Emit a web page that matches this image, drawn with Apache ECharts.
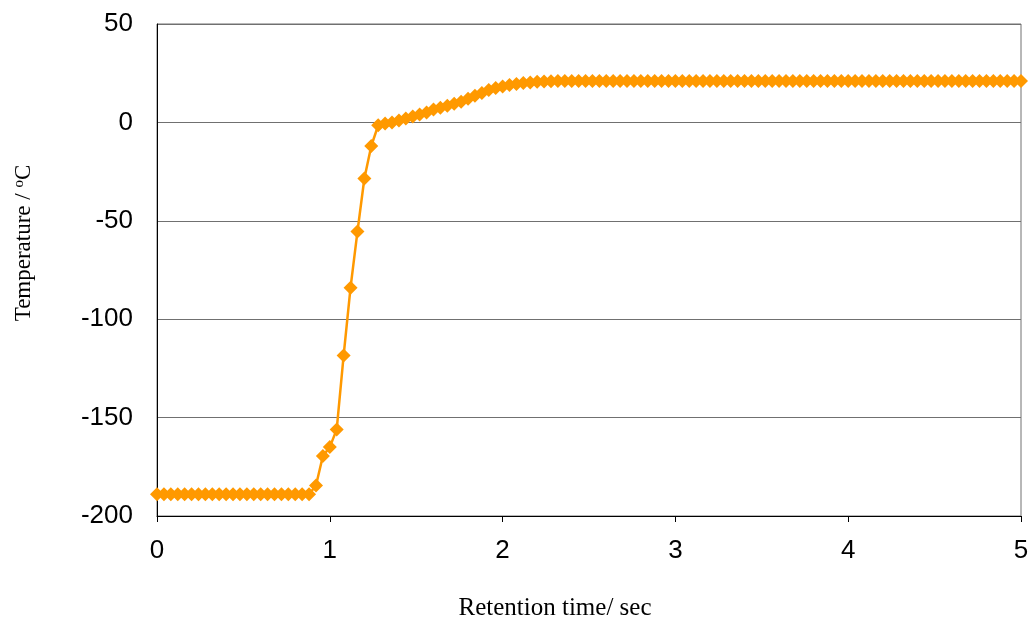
<!DOCTYPE html>
<html>
<head>
<meta charset="utf-8">
<script src="https://cdn.jsdelivr.net/npm/echarts@6/dist/echarts.min.js"></script>
<style>
html,body{margin:0;padding:0;background:#fff;}
#chart{width:1034px;height:628px;}
</style>
</head>
<body>
<div id="chart"></div>
<script>
var times = [0, 0.04, 0.08, 0.12, 0.16, 0.2, 0.24, 0.28, 0.32, 0.36, 0.4, 0.44, 0.48, 0.52, 0.56, 0.6, 0.64, 0.68, 0.72, 0.76, 0.8, 0.84, 0.88, 0.92, 0.96, 1, 1.04, 1.08, 1.12, 1.16, 1.2, 1.24, 1.28, 1.32, 1.36, 1.4, 1.44, 1.48, 1.52, 1.56, 1.6, 1.64, 1.68, 1.72, 1.76, 1.8, 1.84, 1.88, 1.92, 1.96, 2, 2.04, 2.08, 2.12, 2.16, 2.2, 2.24, 2.28, 2.32, 2.36, 2.4, 2.44, 2.48, 2.52, 2.56, 2.6, 2.64, 2.68, 2.72, 2.76, 2.8, 2.84, 2.88, 2.92, 2.96, 3, 3.04, 3.08, 3.12, 3.16, 3.2, 3.24, 3.28, 3.32, 3.36, 3.4, 3.44, 3.48, 3.52, 3.56, 3.6, 3.64, 3.68, 3.72, 3.76, 3.8, 3.84, 3.88, 3.92, 3.96, 4, 4.04, 4.08, 4.12, 4.16, 4.2, 4.24, 4.28, 4.32, 4.36, 4.4, 4.44, 4.48, 4.52, 4.56, 4.6, 4.64, 4.68, 4.72, 4.76, 4.8, 4.84, 4.88, 4.92, 4.96, 5];
var temperatures = [
  -189, -189, -189, -189, -189, -189, -189, -189, -189, -189, -189, -189,
  -189, -189, -189, -189, -189, -189, -189, -189, -189, -189, -189,
  -184.5, -169.5, -165, -156, -118.5, -84, -55.5, -28.5, -12, -1.5,
  -0.5, 0, 1, 2, 3, 4, 5, 6.5, 7.5, 8.5, 9.5, 10.5, 12, 13.5, 15, 16.5, 17.5,
  18.3, 19, 19.5, 20, 20.3, 20.6, 20.8, 20.9,
  21, 21, 21, 21, 21, 21, 21, 21, 21, 21, 21, 21, 21, 21, 21, 21, 21,
  21, 21, 21, 21, 21, 21, 21, 21, 21, 21, 21, 21, 21, 21, 21, 21, 21,
  21, 21, 21, 21, 21, 21, 21, 21, 21, 21, 21, 21, 21, 21, 21, 21, 21,
  21, 21, 21, 21, 21, 21, 21, 21, 21, 21, 21, 21, 21, 21, 21, 21, 21
];
var xTitle = 'Retention time/ sec';
var yTitle = 'Temperature / {sup|o}C';

var points = times.map(function (t, i) { return [t, temperatures[i]]; });

var chart = echarts.init(document.getElementById('chart'), null, {renderer: 'canvas'});
chart.setOption({
  animation: false,
  backgroundColor: '#ffffff',
  grid: {
    left: 157, right: 13, top: 24, bottom: 112,
    show: true, borderColor: '#707070', borderWidth: 1, backgroundColor: 'transparent'
  },
  xAxis: {
    type: 'value', min: 0, max: 5, interval: 1,
    axisLine: {show: true, onZero: false, lineStyle: {color: '#000', width: 1}},
    axisTick: {show: true, inside: false, length: 6, lineStyle: {color: '#000'}},
    splitLine: {show: false},
    axisLabel: {color: '#000', fontFamily: 'Liberation Sans, Arial', fontSize: 26, margin: 22},
    name: xTitle, nameLocation: 'middle', nameGap: 80,
    nameTextStyle: {color: '#000', fontFamily: 'Liberation Serif, Times New Roman', fontSize: 25, padding: [0, 68, 0, 0]}
  },
  yAxis: {
    type: 'value', min: -200, max: 50, interval: 50,
    axisLine: {show: true, onZero: false, lineStyle: {color: '#000', width: 1}},
    axisTick: {show: false},
    splitLine: {show: true, lineStyle: {color: '#707070', width: 1}},
    axisLabel: {color: '#000', fontFamily: 'Liberation Sans, Arial', fontSize: 26, margin: 24},
    name: yTitle, nameLocation: 'middle', nameGap: 122, nameRotate: 90,
    nameTextStyle: {
      color: '#000', fontFamily: 'Liberation Serif, Times New Roman', fontSize: 23,
      padding: [0, 0, 0, 54],
      rich: {sup: {fontFamily: 'Liberation Serif, Times New Roman', fontSize: 15, verticalAlign: 'top', padding: [0, 0, 8, 0], color: '#000'}}
    }
  },
  series: [{
    type: 'line',
    data: points,
    clip: false,
    symbol: 'diamond',
    symbolSize: 14,
    itemStyle: {color: '#FF9900', borderWidth: 0},
    lineStyle: {color: '#FF9900', width: 2.5}
  }]
});
</script>
</body>
</html>
